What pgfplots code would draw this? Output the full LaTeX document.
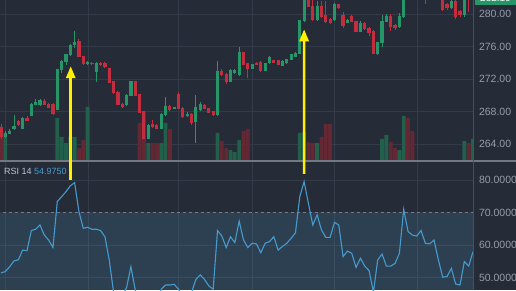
\documentclass[border=0pt]{standalone}
\usepackage{pgfplots}
\pgfplotsset{compat=1.18}
\usepackage{pgfplotstable}
\usepackage{fontspec}
\setmainfont{Liberation Sans}
\usetikzlibrary{arrows.meta}

\definecolor{bgc}{RGB}{37,43,55}
\definecolor{gridc}{RGB}{52,59,72}
\definecolor{upc}{RGB}{38,150,105}
\definecolor{dnc}{RGB}{196,45,62}
\definecolor{upv}{RGB}{34,96,76}
\definecolor{dnv}{RGB}{100,40,52}
\definecolor{rsic}{RGB}{70,155,205}
\definecolor{lblc}{RGB}{150,156,168}
\definecolor{sepc}{RGB}{115,120,130}
\definecolor{bandc}{RGB}{75,150,190}
\definecolor{arrc}{RGB}{255,240,0}
\definecolor{edgec}{RGB}{72,80,93}
\definecolor{dashc}{RGB}{115,122,135}

\pgfplotstableread{
k O H L C V
1 264.9 265.6 264.7 265.3 28
2 265.3 265.8 265.2 265.6 0.6
3 265.9 267.6 265.7 266.2 0.6
5 265.9 267.3 265.8 267.2 0.6
7 267.5 269.0 267.4 268.9 0.6
8 268.9 269.6 268.8 269.1 0.6
9 268.8 269.5 268.7 269.4 0.6
13 268.3 273.3 268.2 273.2 43
14 273.2 274.3 272.8 274.2 24
15 274.2 275.1 273.8 275.0 18
16 275.0 276.3 274.8 276.2 24
17 276.2 277.9 275.9 276.5 24
20 273.9 274.2 273.8 274.1 54
22 272.9 274.1 271.6 274.0 0.6
29 268.8 270.2 268.7 270.0 0.6
30 270.0 271.8 269.9 271.7 0.6
34 264.7 266.5 264.6 266.3 18
37 265.9 267.8 265.8 267.6 18
38 267.6 269.8 267.5 268.6 38
40 268.4 268.6 268.3 268.5 0.6
43 267.5 268.0 267.3 267.7 0.6
45 266.8 270.1 264.1 268.5 0.6
46 268.3 269.2 268.1 268.9 0.6
50 267.6 274.2 267.5 273.0 28
53 271.7 273.3 271.6 273.1 11
54 272.8 273.3 272.6 273.1 9
55 272.5 276.0 272.4 275.3 21
58 273.3 273.9 273.2 273.8 0.6
61 273.1 274.0 273.0 273.9 0.6
62 274.0 274.8 273.9 274.7 0.6
65 273.7 274.3 273.6 274.2 0.6
66 274.0 274.5 273.9 274.4 0.6
67 274.4 275.1 274.3 275.0 0.6
68 274.8 275.3 274.7 275.2 0.6
69 275.2 279.3 275.1 279.2 28
70 279.2 282.8 279.0 282.2 29
73 279.3 281.6 279.2 281.0 18
77 279.3 281.4 279.2 281.2 0.6
80 279.0 279.4 278.9 279.2 0.6
83 277.9 279.2 277.8 278.9 0.6
87 275.2 276.6 275.0 276.5 0.6
88 276.5 279.9 276.0 279.1 22
89 279.1 280.0 279.0 279.7 26
92 278.5 280.2 278.3 279.7 11
93 279.7 282.5 279.6 282.0 45
96 282.1 283.6 282.0 283.2 0.6
99 282.0 283.3 281.9 282.9 0.6
104 280.8 281.8 280.6 281.6 0.6
107 279.9 282.4 279.7 281.9 20
109 281.9 282.5 281.5 282.3 22
}\up

\pgfplotstableread{
k O H L C V
0 266.1 266.5 264.6 264.9 34
4 266.8 267.0 266.2 266.4 0.6
6 267.2 267.4 266.8 266.9 0.6
10 269.3 269.5 268.8 268.9 0.6
11 268.9 269.1 268.4 268.5 0.6
12 268.9 269.0 267.6 267.8 0.6
18 276.6 276.9 274.7 274.8 13
19 274.8 274.9 273.8 273.9 21
21 274.0 274.1 273.8 273.9 0.6
23 274.0 274.1 273.6 273.8 0.6
24 274.0 274.1 273.4 273.5 0.6
25 273.3 273.4 271.5 271.6 0.6
26 271.7 271.8 270.2 270.3 0.6
27 270.3 270.5 268.8 268.9 0.6
28 268.9 269.0 268.4 268.6 0.6
31 271.7 271.8 269.9 270.0 0.6
32 270.1 270.2 267.8 267.9 38
33 268.0 268.1 264.6 264.7 49
35 266.4 266.9 266.0 266.2 18
36 266.3 266.5 265.8 265.9 18
39 268.6 268.8 268.1 268.2 32
41 270.1 270.4 268.3 268.4 0.6
42 268.4 268.5 267.2 267.4 0.6
44 267.7 267.8 266.4 266.6 0.6
47 268.7 268.9 268.3 268.4 0.6
48 268.4 268.5 267.8 267.9 0.6
49 268.0 268.1 267.5 267.6 0.6
51 273.0 273.2 272.4 272.6 20
52 272.6 272.8 271.4 271.7 13
56 275.3 275.4 273.7 273.8 30
57 273.9 274.0 272.2 273.3 32
59 274.0 274.1 273.7 273.8 0.6
60 274.1 274.2 272.9 273.0 0.6
63 274.3 274.4 274.0 274.1 0.6
64 274.3 274.4 273.7 273.8 0.6
71 282.3 282.6 280.9 281.0 19
72 281.0 281.8 279.2 279.3 18
74 281.0 281.6 279.5 279.7 24
75 279.8 281.6 278.9 279.1 37
76 279.4 279.6 278.8 279.0 37
78 281.2 281.3 280.6 280.8 0.6
79 279.9 280.3 278.3 278.6 0.6
81 279.7 279.9 279.0 279.1 0.6
82 279.1 279.2 277.8 277.9 0.6
84 278.9 279.0 278.0 278.2 0.6
85 278.3 278.4 277.3 277.7 0.6
86 277.9 278.0 275.1 275.2 0.6
90 279.7 280.0 277.9 278.5 19
91 278.6 278.8 278.1 278.3 13
94 282.8 283.2 281.9 282.1 43
95 282.6 282.9 281.8 282.0 30
97 283.1 283.4 282.3 282.5 0.6
98 282.6 282.8 281.3 282.0 0.6
100 282.9 283.1 282.1 282.4 0.6
101 282.4 282.6 281.8 281.9 0.6
102 282.0 282.3 280.4 280.6 0.6
103 281.2 281.4 280.5 280.8 0.6
105 281.6 281.8 279.4 279.7 0.6
106 280.3 280.5 279.7 279.9 0.6
108 282.4 282.7 280.3 281.9 18
}\dn

\pgfplotstableread{
k R
0 51.5
1 51.9
2 53.4
3 55.2
4 55.5
5 58.5
6 58.3
7 64.5
8 64.9
9 66.2
10 63.1
11 61.6
12 59.3
13 73.4
14 74.9
15 76.4
16 78.2
17 79.2
18 70.3
19 65.2
20 65.5
21 64.9
22 64.9
23 64.5
24 62.6
25 55.5
26 45.5
27 43.0
28 44.5
29 47.0
30 53.4
31 46.3
32 42.0
33 36.0
34 41.0
35 42.0
36 41.5
37 46.5
38 47.8
39 47.8
40 48.0
41 46.5
42 44.0
43 43.5
44 45.5
45 49.5
46 50.9
47 49.5
48 47.5
49 46.5
50 64.5
51 62.8
52 59.3
53 62.6
54 60.8
55 67.4
56 61.6
57 59.3
58 60.6
59 60.4
60 57.7
61 60.6
62 61.1
63 62.6
64 58.5
65 59.6
66 60.6
67 62.1
68 63.8
69 74.9
70 79.5
71 72.8
72 66.2
73 69.3
74 64.7
75 62.4
76 62.4
77 67.0
78 66.2
79 56.5
80 58.2
81 57.5
82 53.2
83 56.0
84 53.6
85 52.2
86 45.6
87 55.5
88 57.3
89 53.6
90 53.6
91 54.4
92 57.5
93 71.0
94 64.2
95 63.1
96 62.8
97 64.5
98 60.6
99 60.4
100 61.6
101 55.5
102 50.2
103 50.4
104 52.9
105 48.1
106 47.8
107 55.0
108 53.6
109 58.0
}\rsi

\pgfplotsset{
  tvaxis/.style={
    scale only axis, anchor=south west, width=473pt,
    xmin=-0.23, xmax=109.0,
    axis line style={draw=none}, tick style={draw=none}, major tick length=0pt,
    xtick={0.92,20.1,40.9,58.0,77.1,96.1}, xticklabels={},
    yticklabel pos=right,
    grid=major, major grid style={draw=gridc, line width=0.8pt},
  },
}

\begin{document}
\begin{tikzpicture}
\useasboundingbox (0pt,0pt) rectangle (516pt,290pt);
\fill[bgc] (0pt,0pt) rectangle (516pt,290pt);

% price pane
\begin{axis}[tvaxis, at={(0pt,129pt)}, height=161pt,
  ymin=261.90, ymax=281.76,
  ytick={264,268,272,276,280},
  yticklabel style={anchor=west, xshift=2.5pt, text=lblc,
    font=\fontsize{10.5}{12}\selectfont,
    /pgf/number format/.cd, fixed, fixed zerofill, precision=2, assume math mode=true},
]
% volume
\addplot[ybar, bar width=0.88, bar shift=0pt, fill=upv, draw=none, forget plot]
  table[x=k, y expr={261.90+\thisrow{V}/8.106}]{\up};
\addplot[ybar, bar width=0.88, bar shift=0pt, fill=dnv, draw=none, forget plot]
  table[x=k, y expr={261.90+\thisrow{V}/8.106}]{\dn};
% wicks
\addplot[draw=none, mark=none, forget plot,
  error bars/.cd, y dir=both, y explicit, error mark=none,
  error bar style={draw=upc, solid, line width=0.9pt}]
  table[x=k, y expr={(\thisrow{H}+\thisrow{L})/2}, y error expr={(\thisrow{H}-\thisrow{L})/2}]{\up};
\addplot[draw=none, mark=none, forget plot,
  error bars/.cd, y dir=both, y explicit, error mark=none,
  error bar style={draw=dnc, solid, line width=0.9pt}]
  table[x=k, y expr={(\thisrow{H}+\thisrow{L})/2}, y error expr={(\thisrow{H}-\thisrow{L})/2}]{\dn};
% bodies
\addplot[draw=none, mark=none, forget plot,
  error bars/.cd, y dir=both, y explicit, error mark=none,
  error bar style={draw=upc, solid, line width=3.2pt}]
  table[x=k, y expr={(\thisrow{O}+\thisrow{C})/2}, y error expr={abs(\thisrow{C}-\thisrow{O})/2+0.05}]{\up};
\addplot[draw=none, mark=none, forget plot,
  error bars/.cd, y dir=both, y explicit, error mark=none,
  error bar style={draw=dnc, solid, line width=3.2pt}]
  table[x=k, y expr={(\thisrow{O}+\thisrow{C})/2}, y error expr={abs(\thisrow{C}-\thisrow{O})/2+0.05}]{\dn};
\coordinate (A1t) at (axis cs:16.1,273.6);
\coordinate (A2t) at (axis cs:70.0,278.15);
\end{axis}

% RSI pane
\begin{axis}[tvaxis, at={(0pt,0pt)}, height=128pt,
  ymin=46.26, ymax=85.52,
  ytick={50,60,70,80},
  yticklabel style={anchor=west, xshift=2.5pt, text=lblc,
    font=\fontsize{10.5}{12}\selectfont,
    /pgf/number format/.cd, fixed, fixed zerofill, precision=4, assume math mode=true},
]
\addplot[draw=none, fill=bandc, fill opacity=0.2, forget plot]
  coordinates {(-1,70) (110,70)} \closedcycle;
\addplot[draw=dashc, line width=0.6pt, dash pattern=on 3pt off 3pt, forget plot]
  coordinates {(-1,70) (110,70)};
\addplot[draw=rsic, line width=1.1pt, mark=none] table[x=k, y=R]{\rsi};
\coordinate (A1b) at (axis cs:16.1,80);
\coordinate (A2b) at (axis cs:70.0,81.84);
\end{axis}

% pane separator and right edge
\draw[sepc, line width=1.2pt] (0pt,129pt) -- (516pt,129pt);
\draw[edgec, line width=0.8pt] (473pt,0pt) -- (473pt,290pt);

% labels
\node[anchor=west, inner sep=0pt, text=lblc!60!white, font=\fontsize{9}{11}\selectfont] at (4pt,119pt) {RSI 14};
\node[anchor=west, inner sep=0pt, text=rsic, font=\fontsize{9}{11}\selectfont] at (34pt,119pt) {54.9750};

% current price tag
\fill[upc] (475pt,285pt) rectangle (516pt,300pt);
\node[text=white, font=\fontsize{10}{12}\selectfont, inner sep=0pt] at (495.5pt,291.5pt) {282.10};

% annotation arrows
\draw[arrc, line width=2.6pt, -{Triangle[width=9pt,length=12pt]}] (A1b) -- (A1t);
\draw[arrc, line width=2.6pt, -{Triangle[width=9pt,length=12pt]}] (A2b) -- (A2t);
\end{tikzpicture}
\end{document}
